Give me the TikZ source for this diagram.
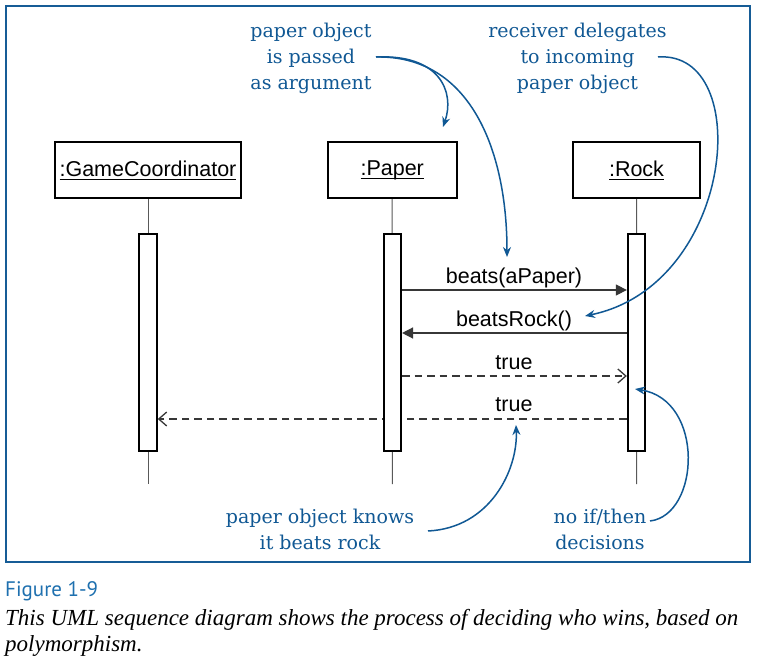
\documentclass[tikz,border=0pt]{standalone}
\usepackage{fontspec}
\setmainfont{Liberation Sans}
\newfontfamily\annfont{DejaVu Serif}
\newfontfamily\capfont{Liberation Serif}
\newfontfamily\figfont{PT Sans}
\usetikzlibrary{arrows.meta,backgrounds}
\definecolor{frameblue}{RGB}{22,92,150}
\definecolor{annblue}{RGB}{16,88,148}
\definecolor{figblue}{RGB}{30,112,175}
\definecolor{msggray}{RGB}{55,55,55}
\newcommand\objname[1]{\setbox0\hbox{#1}\rlap{\rule[-3.5pt]{\wd0}{1pt}}\box0}
\begin{document}
\begin{tikzpicture}[x=1pt,y=-1pt,
  objbox/.style={draw=black, line width=2pt, minimum height=56pt, inner sep=0pt, font=\fontsize{21.5}{24}\selectfont},
  actbar/.style={draw=black, line width=2pt, fill=white, minimum width=17.5pt, minimum height=217.3pt, inner sep=0pt},
  lifeline/.style={draw=black!65, line width=1pt},
  syncmsg/.style={draw=msggray, line width=1.3pt, -{Triangle[length=11pt,width=11pt]}},
  retmsg/.style={draw=msggray, line width=1.3pt, dash pattern=on 7.5pt off 5pt, -{Straight Barb[length=8pt,width=14pt]}},
  msglabel/.style={anchor=base, font=\fontsize{21.5}{24}\selectfont, inner sep=0pt},
  annot/.style={anchor=north, text=annblue, align=center, font=\annfont\fontsize{19}{26}\selectfont, inner sep=0pt},
  annarrow/.style={draw=annblue, line width=1.5pt, -{Stealth[length=10pt,width=8pt]}},
]
\useasboundingbox (0,0) rectangle (761,668);
\begin{scope}[on background layer]
  \fill[white] (0,0) rectangle (761,668);
\end{scope}

% frame
\draw[frameblue, line width=2pt] (5.5,6.5) rectangle (749.5,561.5);

% object boxes
\node[objbox, minimum width=186pt] (gc) at (148,170) {\objname{:GameCoordinator}};
\node[objbox, minimum width=129pt] (paper) at (392.2,170) {\objname{:Paper}};
\node[objbox, minimum width=127pt] (rock) at (636.5,170) {\objname{:Rock}};

% activation bars
\node[actbar] (gbar) at (148,342.3) {};
\node[actbar] (pbar) at (392.3,342.3) {};
\node[actbar] (rbar) at (636.6,342.3) {};

% lifeline ends
\coordinate (gend) at (148,484);
\coordinate (pend) at (392.3,484);
\coordinate (rend) at (636.6,484);

% message levels
\coordinate (y1) at (0,290);
\coordinate (y2) at (0,333);
\coordinate (y3) at (0,376);
\coordinate (y4) at (0,419);

\begin{scope}[on background layer]
  \draw[lifeline] (gc.south) -- (gend);
  \draw[lifeline] (paper.south) -- (pend);
  \draw[lifeline] (rock.south) -- (rend);
  \draw[retmsg] (rbar.west |- y4) -- (gbar.east |- y4);
\end{scope}

\draw[syncmsg] (pbar.east |- y1) -- (rbar.west |- y1);
\draw[syncmsg] (rbar.west |- y2) -- (pbar.east |- y2);
\draw[retmsg] (pbar.east |- y3) -- (rbar.west |- y3);

\node[msglabel] (l1) at (514,283.5) {beats(aPaper)};
\node[msglabel] (l2) at (514,326.5) {beatsRock()};
\node[msglabel] (l3) at (514,369.5) {true};
\node[msglabel] (l4) at (514,412) {true};

% annotations
\node[annot] (ann1) at (311,23) {paper object\\is passed\\as argument};
\node[annot] (ann2) at (577.5,23) {receiver delegates\\to incoming\\paper object};
\node[annot] (ann3) at (320,508.5) {paper object knows\\it beats rock};
\node[annot] (ann4) at (600,508.5) {no if/then\\decisions};

\coordinate (s1) at (376,57);
\coordinate (t1) at (443,127);
\coordinate (t2) at (507,257);
\coordinate (s3) at (658,57);
\coordinate (t3) at (585,316);
\coordinate (s4) at (428,531);
\coordinate (t4) at (516,425);
\coordinate (s5) at (650,521);
\coordinate (t5) at (635,389);

\draw[annarrow] (s1) .. controls (440,54) and (455,92) .. (t1);
\draw[annarrow] (s1) .. controls (470,55) and (507,150) .. (t2);
\draw[annarrow] (s3) .. controls (755,50) and (735,285) .. (t3);
\draw[annarrow] (s4) .. controls (490,528) and (518,470) .. (t4);
\draw[annarrow] (s5) .. controls (700,515) and (705,400) .. (t5);

% caption
\node[anchor=base west, inner sep=0pt, text=figblue, font=\figfont\fontsize{21}{24}\selectfont] (fig) at (5,596.7) {Figure 1-9};
\node[anchor=north west, inner sep=0pt, align=left, font=\capfont\itshape\fontsize{23}{26}\selectfont] (cap) at (5,609.3) {This UML sequence diagram shows the process of deciding who wins, based on\\polymorphism.};
\end{tikzpicture}
\end{document}
